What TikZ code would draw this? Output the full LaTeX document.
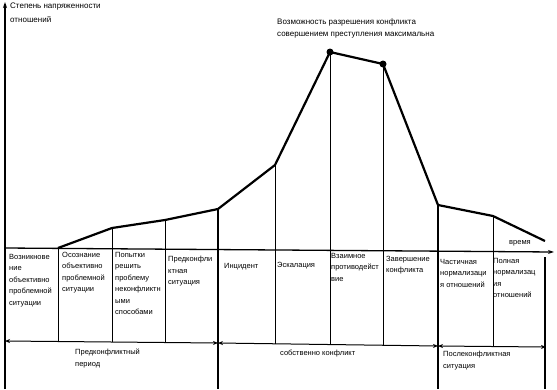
\documentclass[tikz,border=0pt]{standalone}
\usepackage{fontspec}
\setmainfont{Liberation Sans}
\usetikzlibrary{arrows.meta}
\begin{document}
\begin{tikzpicture}[x=1pt,y=-1pt,
  lbl/.style={anchor=north west,inner sep=0pt,align=left,font=\fontsize{7.5}{11.5}\selectfont},
  ttl/.style={anchor=north west,inner sep=0pt,align=left,font=\fontsize{8}{12}\selectfont},
  curve/.style={line width=2.2pt,line join=round},
  vline/.style={line width=0.8pt},
  axis/.style={line width=1.3pt,-{Stealth[length=6pt,width=4pt]}},
  span/.style={line width=1pt,{Stealth[length=5pt,width=4pt]}-{Stealth[length=5pt,width=4pt]}},
  dot/.style={circle,fill=black,inner sep=0pt,minimum size=7pt}]
\useasboundingbox (0,0) rectangle (557,389);
% axes
\coordinate (o) at (5,389);
\coordinate (ytop) at (5,2);
\coordinate (xl) at (5,248);
\coordinate (xr) at (554,252);
\draw[axis] (o) -- (ytop);
\draw[axis] (xl) -- (xr);
% curve points
\coordinate (c1) at (58,248);
\coordinate (c2) at (112,228);
\coordinate (c3) at (165,220);
\coordinate (c4) at (218,209);
\coordinate (c5) at (275,165);
\coordinate (c6) at (330,52);
\coordinate (c7) at (383,64);
\coordinate (c8) at (438,205);
\coordinate (c9) at (493,216);
\coordinate (c10) at (545,241);
\draw[curve] (c1) -- (c2) -- (c3) -- (c4) -- (c5) -- (c6) -- (c7) -- (c8) -- (c9) -- (c10);
\node[dot] (d1) at (c6) {};
\node[dot] (d2) at (c7) {};
% vertical lines bottoms
\coordinate (b1) at (58,342);
\coordinate (b2) at (112,342);
\coordinate (b3) at (165,343);
\coordinate (b4) at (218,389);
\coordinate (b5) at (275,344);
\coordinate (b6) at (330,345);
\coordinate (b7) at (383,345);
\coordinate (b8) at (438,389);
\coordinate (b9) at (493,346);
\coordinate (t10) at (545,257);
\coordinate (b10) at (545,389);
\draw[vline] (c1) -- (b1);
\draw[vline] (c2) -- (b2);
\draw[vline] (c3) -- (b3);
\draw[line width=1.1pt] (c4) -- (b4);
\draw[vline] (c5) -- (b5);
\draw[vline] (c6) -- (b6);
\draw[vline] (c7) -- (b7);
\draw[line width=1.1pt] (c8) -- (b8);
\draw[vline] (c9) -- (b9);
\draw[line width=1.1pt] (t10) -- (b10);
% span arrows
\coordinate (s0) at (5,341);
\coordinate (s1) at (218,343);
\coordinate (s2) at (438,346);
\coordinate (s3) at (546,347);
\draw[span] (s0) -- (s1);
\draw[span] (s1) -- (s2);
\draw[span] (s2) -- (s3);
% titles
\node[ttl,font=\fontsize{8}{13.5}\selectfont] (ylab) at (10,3) {Степень напряженности\\отношений};
\node[ttl] (peak) at (277,18) {Возможность разрешения конфликта\\совершением преступления максимальна};
\node[lbl] (time) at (509,240) {время};
% column texts
\node[lbl] (t1) at (9,254) {Возникнове\\ние\\объективно\\проблемной\\ситуации};
\node[lbl] (t2) at (62,252) {Осознание\\объективно\\проблемной\\ситуации};
\node[lbl] (t3) at (115,252) {Попытки\\решить\\проблему\\неконфликтн\\ыми\\способами};
\node[lbl] (t4) at (168,256) {Предконфли\\ктная\\ситуация};
\node[lbl] (t5) at (224,263) {Инцидент};
\node[lbl] (t6) at (277,262) {Эскалация};
\node[lbl] (t7) at (331,253) {Взаимное\\противодейст\\вие};
\node[lbl] (t8) at (386,256) {Завершение\\конфликта};
\node[lbl] (t9) at (440,259) {Частичная\\нормализаци\\я отношений};
\node[lbl] (t10) at (493,258) {Полная\\нормализац\\ия\\отношений};
% period labels
\node[lbl] (p1) at (75,349) {Предконфликтный\\период};
\node[lbl] (p2) at (280,350) {собственно конфликт};
\node[lbl] (p3) at (443,351) {Послеконфликтная\\ситуация};
\end{tikzpicture}
\end{document}
